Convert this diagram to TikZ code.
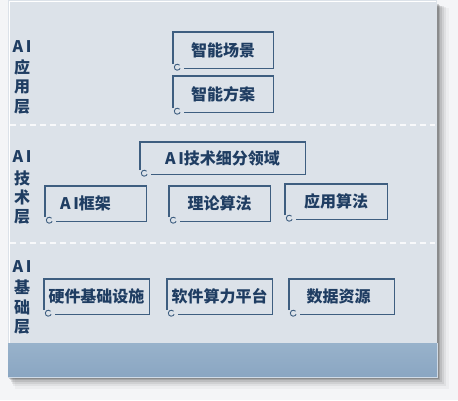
\documentclass[tikz,border=0pt]{standalone}
\usepackage{fontspec}
\setmainfont{Noto Sans CJK SC}
\usetikzlibrary{calc}
\definecolor{outbg}{HTML}{F4F5F7}
\definecolor{panel}{HTML}{DCE2E9}
\definecolor{band}{HTML}{8AA6C2}
\definecolor{bandtop}{HTML}{98B2CB}
\definecolor{txt}{HTML}{1F3D62}
\definecolor{bln}{HTML}{3E5E80}
\begin{document}
\begin{tikzpicture}[x=1pt,y=-1pt,
  bline/.style={draw=bln,line width=1.4pt},
  bx/.style={inner sep=0pt,text=txt,font=\fontsize{16}{16}\selectfont\bfseries},
  side/.style={inner sep=0pt,text=txt,font=\fontsize{16}{16}\selectfont\bfseries},
  sep/.style={draw=white!80!panel,line width=1.2pt,dash pattern=on 6pt off 4pt}]
\useasboundingbox (0,0) rectangle (458,400);
\fill[outbg] (0,0) rectangle (458,400);
% shadow
\foreach \o/\a in {12/0.03,9/0.05,7/0.07,5/0.09,3/0.12,1.5/0.16}{
  \fill[black,opacity=\a] (8+\o*0.6,4+\o*0.3) rectangle (437+\o,377+\o);
}
% panel
\fill[panel] (8,0) rectangle (437,377);
\draw[white,line width=0.8pt] (9,377) -- (9,1) -- (436,1);
% band
\shade[top color=bandtop,bottom color=band] (8,343) rectangle (437,377);
\draw[white!60!band,line width=0.8pt] (8,377) -- (437,377) -- (437,343);
% separators
\draw[sep] (10,125) -- (435,125);
\draw[sep] (10,243) -- (435,243);
% side labels
\node[side] (s1a) at (22,47) {A\,I};
\node[side] (s1b) at (22,67) {应};
\node[side] (s1c) at (22,87) {用};
\node[side] (s1d) at (22,107) {层};
\node[side] (s2a) at (22,157) {A\,I};
\node[side] (s2b) at (22,178) {技};
\node[side] (s2c) at (22,197) {术};
\node[side] (s2d) at (22,217) {层};
\node[side] (s3a) at (22,267) {A\,I};
\node[side] (s3b) at (22,287) {基};
\node[side] (s3c) at (22,307) {础};
\node[side] (s3d) at (22,327) {层};
% boxes
\newcommand\mkbox[6]{%
  \node[bx,minimum width=#4-#2,minimum height=#5-#3] (#1) at ({(#2+#4)/2},{(#3+#5)/2}) {#6};
  \draw[bline] ([yshift=4pt]#1.south west) -- (#1.north west) -- (#1.north east) -- (#1.south east) -- ([xshift=11pt]#1.south west);
  \draw[bln,line width=0.9pt] ([xshift=4.5pt,yshift=1pt]#1.south west) ++(40:3pt) arc[start angle=40,end angle=340,radius=3pt];
}
\mkbox{z1}{173}{32}{273}{68}{智能场景}
\mkbox{z2}{173}{76}{273}{112}{智能方案}
\mkbox{t0}{140}{142}{305}{174}{A\,I技术细分领域}
\mkbox{t1}{45}{186}{146}{221}{\hspace*{-20pt}A\,I框架}
\mkbox{t2}{169}{186}{270}{221}{理论算法}
\mkbox{t3}{285}{184}{387}{219}{应用算法}
\mkbox{j1}{44}{279}{149}{314}{硬件基础设施}
\mkbox{j2}{167}{279}{272}{314}{软件算力平台}
\mkbox{j3}{289}{279}{394}{314}{\hspace*{-6pt}数据资源}
\end{tikzpicture}
\end{document}
